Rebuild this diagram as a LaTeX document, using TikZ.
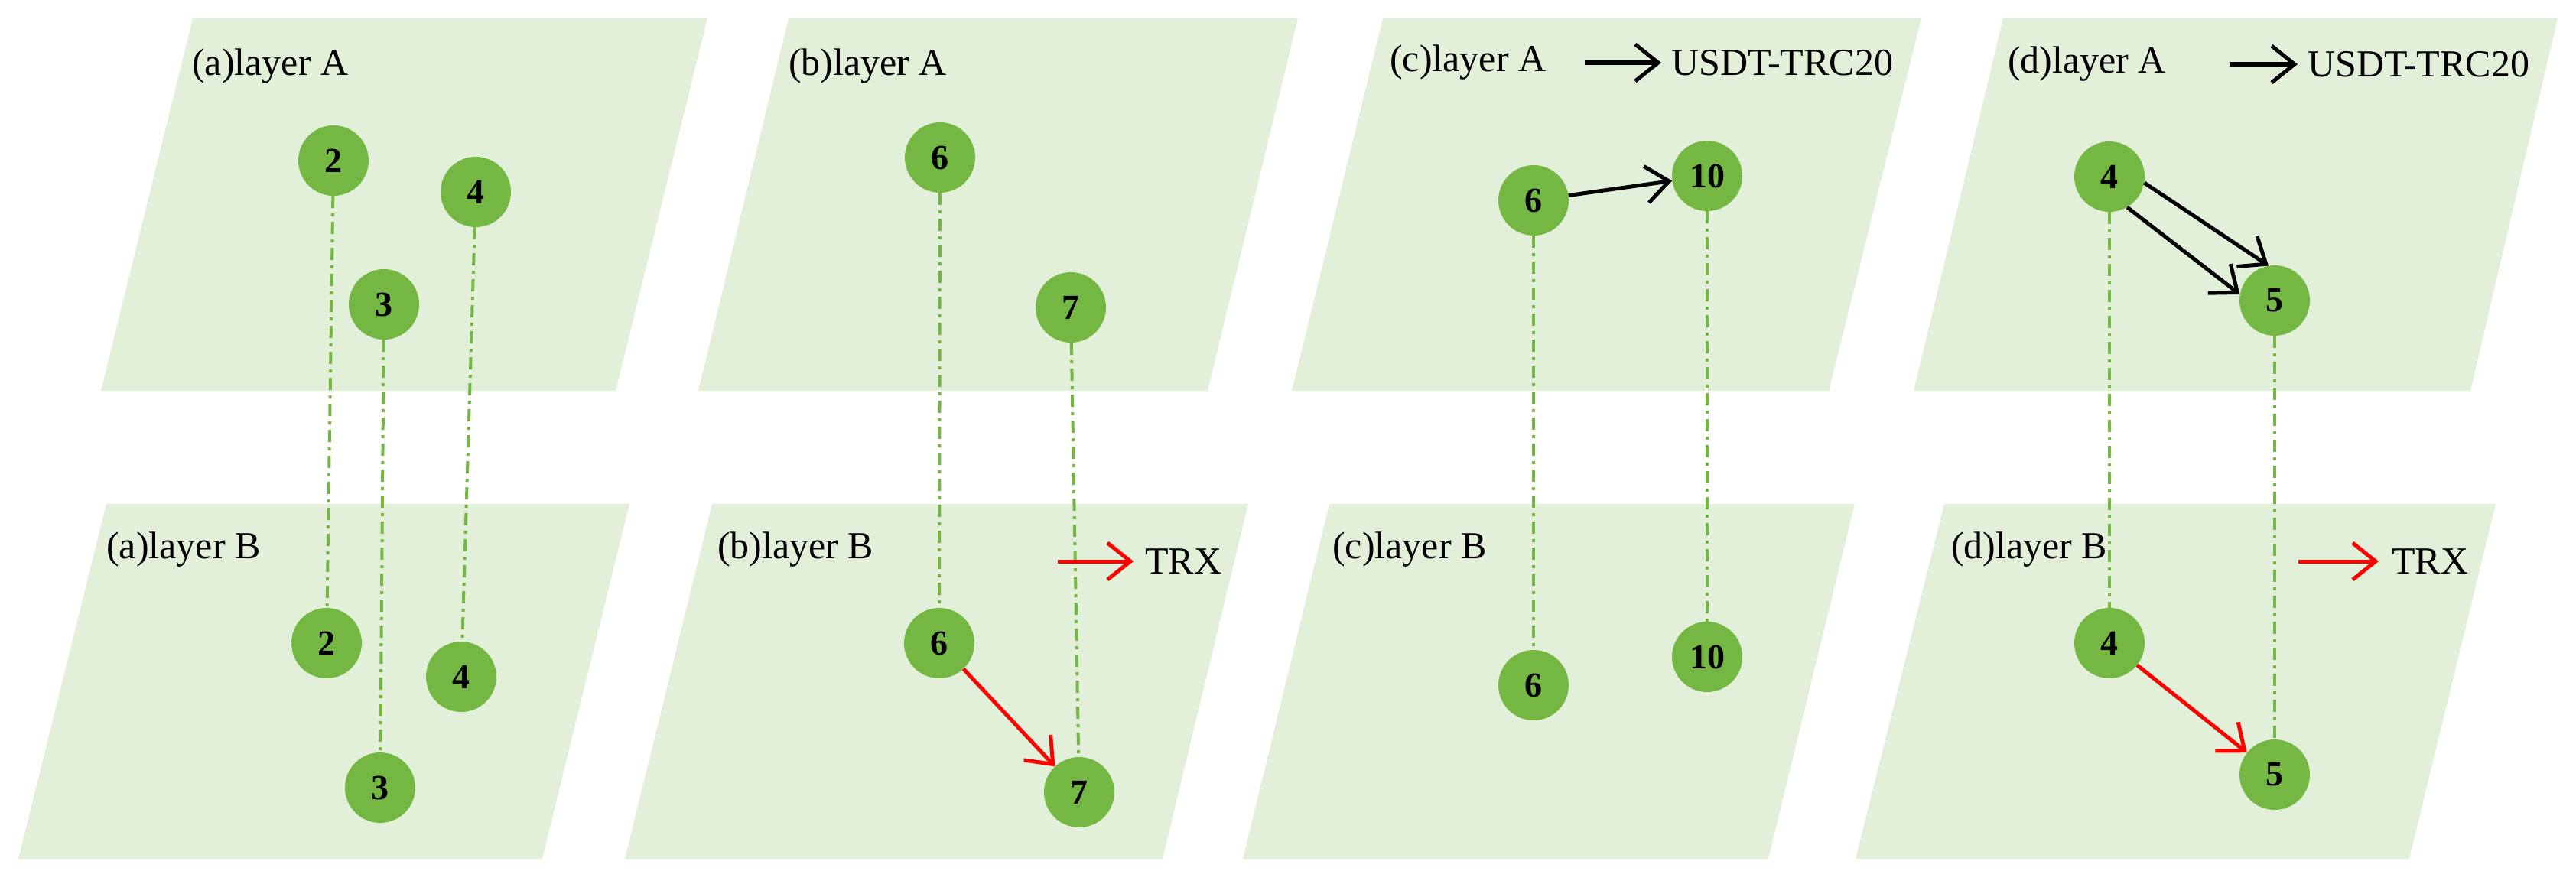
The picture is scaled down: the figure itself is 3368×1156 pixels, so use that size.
\documentclass[tikz,border=0pt]{standalone}
\usepackage{fontspec}
\setmainfont{Liberation Serif}
\usetikzlibrary{arrows.meta}
\definecolor{bg}{HTML}{E2F0D9}
\definecolor{nd}{HTML}{74B843}
\tikzset{
  plane/.style={fill=bg,draw=none},
  nodec/.style={circle,fill=nd,minimum size=92pt,inner sep=0pt,font=\fontsize{46}{50}\selectfont\bfseries},
  lbl/.style={anchor=west,inner sep=0pt,font=\fontsize{50}{54}\selectfont},
  link/.style={draw=nd,line width=4pt,dash pattern=on 16pt off 7pt on 4pt off 7pt},
  blk/.style={draw=black,line width=5pt,-{Straight Barb[length=30pt,width=48pt,line width=5pt]}},
  redar/.style={draw=red,line width=5pt,-{Straight Barb[length=30pt,width=48pt,line width=5pt]}},
}
\begin{document}
\begin{tikzpicture}[x=1pt,y=-1pt]
\useasboundingbox (0,0) rectangle (3368,1156);
% planes
\fill[plane] (252,24) -- (925,24) -- (805,511) -- (132,511) -- cycle;
\fill[plane] (139,659) -- (823,659) -- (709,1123) -- (24,1123) -- cycle;
\fill[plane] (1031,24) -- (1697,24) -- (1579,511) -- (913,511) -- cycle;
\fill[plane] (931,659) -- (1632,659) -- (1520,1123) -- (817,1123) -- cycle;
\fill[plane] (1808,24) -- (2512,24) -- (2391,511) -- (1689,511) -- cycle;
\fill[plane] (1738,659) -- (2425,659) -- (2312,1123) -- (1625,1123) -- cycle;
\fill[plane] (2619,24) -- (3344,24) -- (3230,511) -- (2502,511) -- cycle;
\fill[plane] (2542,659) -- (3263,659) -- (3150,1123) -- (2426,1123) -- cycle;
% labels
\node[lbl] (laA) at (251,87) {(a)layer A};
\node[lbl] (laB) at (139,719) {(a)layer B};
\node[lbl] (lbA) at (1031,87) {(b)layer A};
\node[lbl] (lbB) at (938,719) {(b)layer B};
\node[lbl] (lcA) at (1817,82) {(c)layer A};
\node[lbl] (lcB) at (1742,719) {(c)layer B};
\node[lbl] (ldA) at (2625,84) {(d)layer A};
\node[lbl] (ldB) at (2551,719) {(d)layer B};
% legends
\coordinate (c1s) at (2072,82); \coordinate (c1e) at (2172,82);
\node[lbl] (c1t) at (2185,82) {USDT-TRC20};
\coordinate (d1s) at (2915,84); \coordinate (d1e) at (3004,84);
\node[lbl] (d1t) at (3017,84) {USDT-TRC20};
\coordinate (b1s) at (1383,734); \coordinate (b1e) at (1482,734);
\node[lbl] (b1t) at (1497,734) {TRX};
\coordinate (d2s) at (3005,734); \coordinate (d2e) at (3110,734);
\node[lbl] (d2t) at (3127,734) {TRX};
% nodes
\node[nodec] (a2A) at (436,210) {2};
\node[nodec] (a4A) at (622,251) {4};
\node[nodec] (a3A) at (502,398) {3};
\node[nodec] (a2B) at (427,841) {2};
\node[nodec] (a4B) at (603,885) {4};
\node[nodec] (a3B) at (497,1030) {3};
\node[nodec] (b6A) at (1229,206) {6};
\node[nodec] (b7A) at (1400,402) {7};
\node[nodec] (b6B) at (1228,841) {6};
\node[nodec] (b7B) at (1411,1036) {7};
\node[nodec] (c6A) at (2005,262) {6};
\node[nodec] (c10A) at (2232,230) {10};
\node[nodec] (c6B) at (2005,896) {6};
\node[nodec] (c10B) at (2232,859) {10};
\node[nodec] (d4A) at (2758,231) {4};
\node[nodec] (d5A) at (2974,393) {5};
\node[nodec] (d4B) at (2758,841) {4};
\node[nodec] (d5B) at (2974,1013) {5};
% inter-layer links
\draw[link] (a2A) -- (a2B);
\draw[link] (a3A) -- (a3B);
\draw[link] (a4A) -- (a4B);
\draw[link] (b6A) -- (b6B);
\draw[link] (b7A) -- (b7B);
\draw[link] (c6A) -- (c6B);
\draw[link] (c10A) -- (c10B);
\draw[link] (d4A) -- (d4B);
\draw[link] (d5A) -- (d5B);
% arrows
\draw[blk] (c1s) -- (c1e);
\draw[blk] (d1s) -- (d1e);
\draw[redar] (b1s) -- (b1e);
\draw[redar] (d2s) -- (d2e);
\draw[blk] (c6A) -- (c10A);
\draw[blk] (d4A.-10) -- (d5A.100);
\draw[blk] (d4A.-60) -- (d5A.170);
\draw[redar] (b6B) -- (b7B);
\draw[redar] (d4B) -- (d5B);
\end{tikzpicture}
\end{document}
